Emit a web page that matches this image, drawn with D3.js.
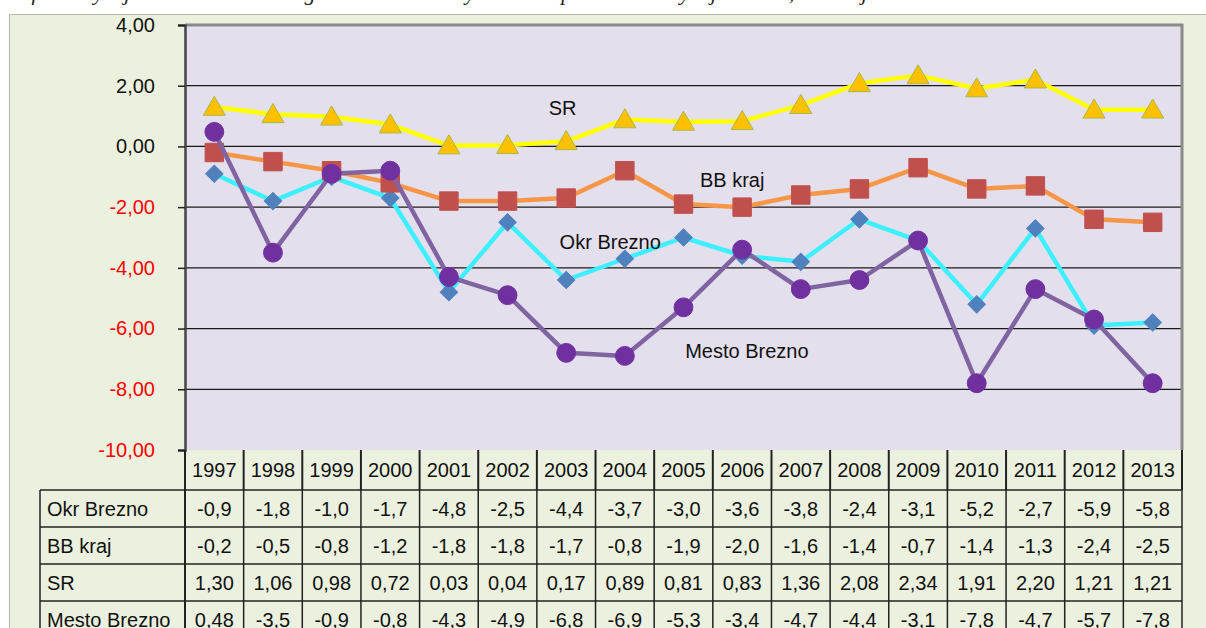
<!DOCTYPE html>
<html lang="sk">
<head>
    <meta charset="UTF-8">
    <title>Saldo migrácie - Brezno</title>
    <script src="https://cdnjs.cloudflare.com/ajax/libs/d3/7.8.5/d3.min.js"></script>
    <style>
        body {
            margin: 0;
            background: #ffffff;
            font-family: "Liberation Sans", Arial, sans-serif;
        }
        svg { display: block; }
        svg text {
            font-family: "Liberation Sans", Arial, sans-serif;
        }
    </style>
</head>
<body>
    <svg id="chart" width="1206" height="628"></svg>

    <script>
        // data
        const years = ["1997", "1998", "1999", "2000", "2001", "2002", "2003", "2004", "2005",
                       "2006", "2007", "2008", "2009", "2010", "2011", "2012", "2013"];
        const okrBrezno = [-0.9, -1.8, -1.0, -1.7, -4.8, -2.5, -4.4, -3.7, -3.0, -3.6, -3.8, -2.4, -3.1, -5.2, -2.7, -5.9, -5.8];
        const bbKraj = [-0.2, -0.5, -0.8, -1.2, -1.8, -1.8, -1.7, -0.8, -1.9, -2.0, -1.6, -1.4, -0.7, -1.4, -1.3, -2.4, -2.5];
        const sr = [1.30, 1.06, 0.98, 0.72, 0.03, 0.04, 0.17, 0.89, 0.81, 0.83, 1.36, 2.08, 2.34, 1.91, 2.20, 1.21, 1.21];
        const mestoBrezno = [0.48, -3.5, -0.9, -0.8, -4.3, -4.9, -6.8, -6.9, -5.3, -3.4, -4.7, -4.4, -3.1, -7.8, -4.7, -5.7, -7.8];
        const seriesNames = ["Okr Brezno", "BB kraj", "SR", "Mesto Brezno"];
        const yTicks = [4, 2, 0, -2, -4, -6, -8, -10];
        const titleText = "Graf č. 5 Vývoj celkového salda migrácie na 1000 obyvateľov v porovnaní s vývojom v SR, BB kraji a v meste Brezno";

        const series = [
            {name: seriesNames[0], values: okrBrezno, line: "#3df0ff", fill: "#4f81bd", stroke: "#4f81bd", symbol: d3.symbolSquare, size: 150, rotate: 45},
            {name: seriesNames[1], values: bbKraj, line: "#f79646", fill: "#c0504d", stroke: "#c0504d", symbol: d3.symbolSquare, size: 340, rotate: 0},
            {name: seriesNames[2], values: sr, line: "#ffff00", fill: "#ffc000", stroke: "#a8b84a", symbol: d3.symbolTriangle, size: 210, rotate: 0},
            {name: seriesNames[3], values: mestoBrezno, line: "#8064a2", fill: "#7030a0", stroke: "#7030a0", symbol: d3.symbolCircle, size: 280, rotate: 0}
        ];

        // where the in-plot series labels sit (year index, value)
        const labelPos = [
            {name: "Okr Brezno", i: 6.75, v: -3.16},
            {name: "BB kraj", i: 8.83, v: -1.12},
            {name: "SR", i: 5.94, v: 1.28},
            {name: "Mesto Brezno", i: 9.08, v: -6.75}
        ];

        const loc = d3.formatLocale({decimal: ",", thousands: " ", grouping: [3], currency: ["", ""], minus: "-"});
        const fmtAxis = loc.format(".2f");
        const fmtCell = v => loc.format(v < 0 ? ".1f" : ".2f")(v);

        const plot = {left: 185, right: 1182, top: 25, bottom: 450};
        const tableLeft = 40;
        const headerBottom = 490;
        const rowH = 37;

        const svg = d3.select("#chart");

        // title line, mostly cut off at the top edge
        svg.append("text")
            .attr("x", -4)
            .attr("y", 0)
            .style("font-family", "'Liberation Serif', serif")
            .style("font-style", "italic")
            .style("font-size", "22px")
            .attr("fill", "#222")
            .text(titleText);

        // chart area
        svg.append("rect")
            .attr("x", 9.5).attr("y", 14.5)
            .attr("width", 1220).attr("height", 640)
            .attr("fill", "#ebf1de")
            .attr("stroke", "#b5b8ab");

        const x = d3.scaleBand().domain(years).range([plot.left, plot.right]);
        const xi = d3.scaleLinear().domain([0, years.length]).range([plot.left, plot.right]);
        const y = d3.scaleLinear().domain([-10, 4]).range([plot.bottom, plot.top]);
        const cx = d => x(d) + x.bandwidth() / 2;

        svg.append("rect")
            .attr("x", plot.left).attr("y", plot.top)
            .attr("width", plot.right - plot.left).attr("height", plot.bottom - plot.top)
            .attr("fill", "#e4dfec");

        // gridlines
        svg.append("g")
            .selectAll("line")
            .data(yTicks.filter(t => t > -10 && t < 4))
            .enter().append("line")
            .attr("x1", plot.left).attr("x2", plot.right)
            .attr("y1", d => y(d)).attr("y2", d => y(d))
            .attr("stroke", "#1a1a1a")
            .attr("stroke-width", 1.3);

        // plot frame (top and right)
        svg.append("path")
            .attr("d", `M${plot.left},${plot.top}H${plot.right}V${plot.bottom}`)
            .attr("fill", "none")
            .attr("stroke", "#8a8a8a")
            .attr("stroke-width", 3);

        // y axis
        const yAxis = svg.append("g")
            .attr("transform", `translate(${plot.left},0)`)
            .call(d3.axisLeft(y).tickValues(yTicks).tickSize(7).tickPadding(23).tickFormat(fmtAxis));
        yAxis.select(".domain").attr("stroke", "#444").attr("stroke-width", 2.5);
        yAxis.selectAll(".tick line").attr("stroke", "#222").attr("stroke-width", 1.5);
        yAxis.selectAll(".tick text")
            .style("font-size", "20px")
            .attr("fill", d => d < 0 ? "#ff0000" : "#111");

        // lines and markers, in series order
        series.forEach(s => {
            const line = d3.line()
                .x((d, i) => cx(years[i]))
                .y(d => y(d));
            svg.append("path")
                .datum(s.values)
                .attr("d", line)
                .attr("fill", "none")
                .attr("stroke", s.line)
                .attr("stroke-width", 4.5)
                .attr("stroke-linejoin", "round");
            svg.append("g")
                .selectAll("path")
                .data(s.values)
                .enter().append("path")
                .attr("d", d3.symbol().type(s.symbol).size(s.size))
                .attr("transform", (d, i) => `translate(${cx(years[i])},${y(d) + (s.symbol === d3.symbolTriangle ? 2 : 0)}) rotate(${s.rotate})`)
                .attr("fill", s.fill)
                .attr("stroke", s.stroke)
                .attr("stroke-width", 1);
        });

        // series labels inside the plot
        svg.append("g")
            .selectAll("text")
            .data(labelPos)
            .enter().append("text")
            .attr("x", d => xi(d.i + 0.5))
            .attr("y", d => y(d.v))
            .attr("dy", "0.35em")
            .attr("text-anchor", "middle")
            .style("font-size", "20px")
            .attr("fill", "#111")
            .text(d => d.name);

        // data table
        const table = svg.append("g");
        const tableBottom = headerBottom + rowH * series.length;

        table.selectAll("text.year")
            .data(years)
            .enter().append("text")
            .attr("class", "year")
            .attr("x", d => cx(d))
            .attr("y", (plot.bottom + headerBottom) / 2)
            .attr("dy", "0.36em")
            .attr("text-anchor", "middle")
            .style("font-size", "20px")
            .attr("fill", "#111")
            .text(d => d);

        // header cell borders
        table.selectAll("line.hv")
            .data(years.slice(1).concat(["end"]))
            .enter().append("line")
            .attr("x1", d => d === "end" ? plot.right : x(d))
            .attr("x2", d => d === "end" ? plot.right : x(d))
            .attr("y1", plot.bottom).attr("y2", headerBottom)
            .attr("stroke", "#222").attr("stroke-width", 2);
        table.append("line")
            .attr("x1", plot.left).attr("x2", plot.left)
            .attr("y1", plot.bottom).attr("y2", tableBottom)
            .attr("stroke", "#222").attr("stroke-width", 2);

        // row lines
        table.selectAll("line.row")
            .data(d3.range(series.length + 1))
            .enter().append("line")
            .attr("x1", tableLeft).attr("x2", plot.right)
            .attr("y1", i => headerBottom + i * rowH)
            .attr("y2", i => headerBottom + i * rowH)
            .attr("stroke", "#222").attr("stroke-width", 1.5);

        // body column lines
        table.selectAll("line.col")
            .data(years.slice(1).concat(["end"]))
            .enter().append("line")
            .attr("x1", d => d === "end" ? plot.right : x(d))
            .attr("x2", d => d === "end" ? plot.right : x(d))
            .attr("y1", headerBottom).attr("y2", tableBottom)
            .attr("stroke", "#222").attr("stroke-width", 1.5);
        table.append("line")
            .attr("x1", tableLeft).attr("x2", tableLeft)
            .attr("y1", headerBottom).attr("y2", tableBottom)
            .attr("stroke", "#222").attr("stroke-width", 1.5);

        series.forEach((s, r) => {
            const ty = headerBottom + rowH * r + rowH / 2;
            table.append("text")
                .attr("x", tableLeft + 7)
                .attr("y", ty)
                .attr("dy", "0.36em")
                .style("font-size", "20px")
                .attr("fill", "#111")
                .text(s.name);
            table.append("g")
                .selectAll("text")
                .data(s.values)
                .enter().append("text")
                .attr("x", (d, i) => cx(years[i]))
                .attr("y", ty)
                .attr("dy", "0.36em")
                .attr("text-anchor", "middle")
                .style("font-size", "20px")
                .attr("fill", "#111")
                .text(d => fmtCell(d));
        });
    </script>
</body>
</html>
